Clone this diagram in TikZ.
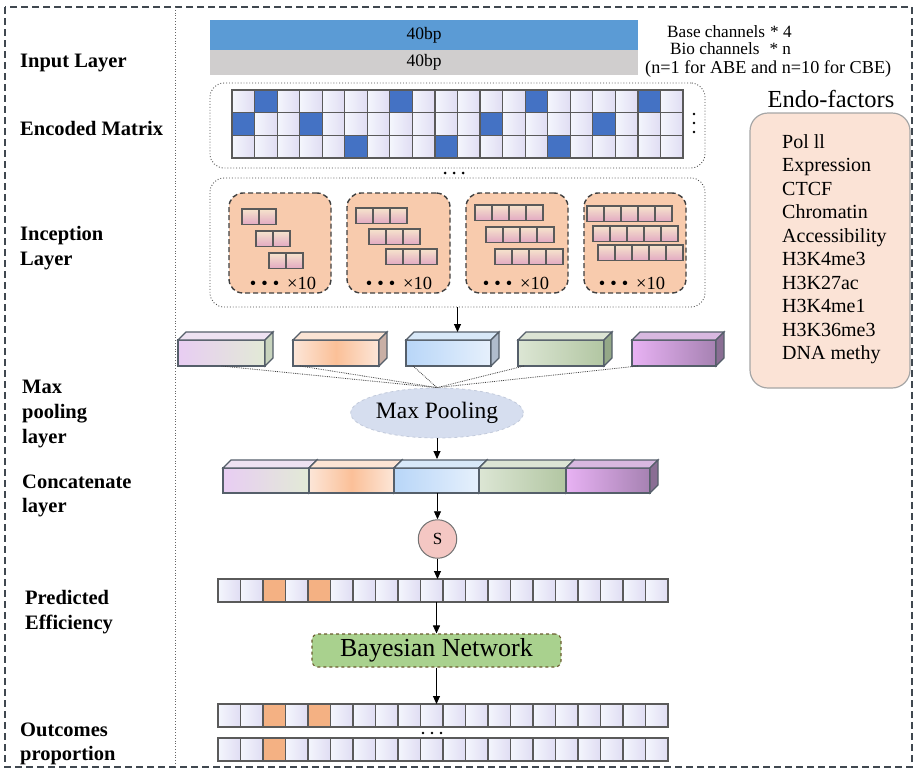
\documentclass[tikz,border=0pt]{standalone}
\usepackage{fontspec}
\setmainfont{Liberation Serif}
\usetikzlibrary{shapes.geometric,arrows.meta,calc}
\definecolor{edgeC}{HTML}{555F6A}
\definecolor{cellEdge}{HTML}{5A5A5A}
\definecolor{cellA}{HTML}{F4F6FD}
\definecolor{cellB}{HTML}{E0DDF3}
\definecolor{blueC}{HTML}{4472C4}
\definecolor{orangeC}{HTML}{F4B183}
\definecolor{barblue}{HTML}{5B9BD5}
\definecolor{bargray}{HTML}{D0CECE}
\definecolor{incfill}{HTML}{F8CBAD}
\definecolor{filtTop}{HTML}{F6E4CC}
\definecolor{filtBot}{HTML}{E2A9C2}
\definecolor{endofill}{HTML}{FBE3D6}
\definecolor{endoedge}{HTML}{A6A6A6}
\definecolor{poolfill}{HTML}{D6DEEF}
\definecolor{pooledge}{HTML}{C2CADB}
\definecolor{bayesfill}{HTML}{A9D18E}
\definecolor{bayesedge}{HTML}{6B5B2E}
\definecolor{sfill}{HTML}{F4C7C3}
\definecolor{framegray}{HTML}{404850}
% cube colours
\definecolor{aL}{HTML}{E8CDF3}\definecolor{aR}{HTML}{E2EAD6}\definecolor{aT}{HTML}{EEE2F2}\definecolor{aS}{HTML}{C8D4BE}
\definecolor{bE}{HTML}{FCE6D8}\definecolor{bM}{HTML}{FBC098}\definecolor{bT}{HTML}{FCE4D4}\definecolor{bS}{HTML}{C9AFA5}
\definecolor{cL}{HTML}{B8D6F8}\definecolor{cR}{HTML}{E6F0FC}\definecolor{cT}{HTML}{D8E8F8}\definecolor{cS}{HTML}{B0BCCC}
\definecolor{dL}{HTML}{DCE6D4}\definecolor{dR}{HTML}{B2C6A2}\definecolor{dT}{HTML}{DCE4D4}\definecolor{dS}{HTML}{94A888}
\definecolor{eL}{HTML}{E8B2F4}\definecolor{eR}{HTML}{A682B2}\definecolor{eT}{HTML}{D8B8E0}\definecolor{eS}{HTML}{8A6E94}
% #1 name, #2 x0, #3 x1, #4 y0, #5 y1, #6 front shading, #7 top colour, #8 side colour, #9 depth
\newcommand\drawcube[9]{%
  \node[cubeedge, #6, minimum width={#3-#2}, minimum height={#5-#4}, inner sep=0, outer sep=0]
     (#1) at ({(#2+#3)/2},{(#4+#5)/2}) {};
  \draw[cubeedge, fill=#7] (#1.north west) -- ++(#9,-#9) -- ++({#3-#2},0) -- (#1.north east) -- cycle;
  \draw[cubeedge, fill=#8] (#1.north east) -- ++(#9,-#9) -- ++(0,{#5-#4}) -- (#1.south east) -- cycle;
}
\begin{document}
\begin{tikzpicture}[x=1pt,y=-1pt,
  cubeedge/.style={draw=edgeC, line width=1.1pt},
  cellbox/.style={draw=cellEdge, line width=1.2pt},
  filtcell/.style={draw=cellEdge, line width=1.1pt, top color=filtTop, bottom color=filtBot},
  incbox/.style={draw=black!75, line width=1.4pt, dash pattern=on 5pt off 3pt, rounded corners=14pt,
                 fill=incfill, inner sep=0, outer sep=0},
  dotbox/.style={draw=black!70, line width=0.9pt, dotted, rounded corners=14pt, inner sep=0, outer sep=0},
  arr/.style={-{Triangle[length=8pt,width=7pt]}, line width=0.9pt, black},
  poolline/.style={draw=black!75, line width=0.8pt, densely dotted},
  lbl/.style={font=\fontsize{20.5}{24}\selectfont\bfseries, anchor=base west, inner sep=0},
  txt/.style={font=\fontsize{17.2}{19}\selectfont, anchor=base west, inner sep=0},
  rowbox/.style={minimum width=450pt, minimum height=23pt, inner sep=0, outer sep=0}
]
\useasboundingbox (0,0) rectangle (915,774);
\fill[white] (0,0) rectangle (915,774);

% frame and separator
\draw[framegray, line width=1.1pt, dash pattern=on 7pt off 4pt] (5,7) rectangle (912,767);
\draw[black!60, line width=0.8pt, dotted] (175,7) -- (175,767);

% left labels
\node[lbl] (lInput) at (20,67) {Input Layer};
\node[lbl] (lEnc) at (20,135) {Encoded Matrix};
\node[lbl] (lInc1) at (20,240) {Inception};
\node[lbl] (lInc2) at (20,265) {Layer};
\node[lbl] (lMax1) at (22,393) {Max};
\node[lbl] (lMax2) at (22,418) {pooling};
\node[lbl] (lMax3) at (22,443) {layer};
\node[lbl] (lCat1) at (22,488) {Concatenate};
\node[lbl] (lCat2) at (22,512) {layer};
\node[lbl] (lPre1) at (25,604) {Predicted};
\node[lbl] (lPre2) at (25,629) {Efficiency};
\node[lbl] (lOut1) at (20,736) {Outcomes};
\node[lbl] (lOut2) at (20,760) {proportion};

% input layer
\node[fill=barblue, minimum width=428pt, minimum height=30pt, inner sep=0, outer sep=0,
      font=\fontsize{17.5}{20}\selectfont] (inBlue) at (424,35) {40bp};
\node[fill=bargray, minimum width=428pt, minimum height=25pt, inner sep=0, outer sep=0,
      font=\fontsize{17.5}{20}\selectfont] (inGray) at (424,62.5) {40bp};
\node[txt] (baseCh) at (667,37) {Base channels\hspace{5pt}* 4};
\node[txt] (bioCh) at (670,54) {Bio channels\hspace{10pt}* n};
\node[txt, font=\fontsize{18.2}{20}\selectfont] (nNote) at (645,73) {(n=1 for ABE and n=10 for CBE)};

% encoded matrix
\node[dotbox, minimum width=495pt, minimum height=85pt] (encBox) at (457.5,125.5) {};
\foreach \r in {0,1,2}{\foreach \c in {0,...,19}{
  \draw[cellbox, left color=cellA, right color=cellB] ({232+\c*22.55},{90+\r*22.67}) rectangle ++(22.55,22.67);
}}
\foreach \r/\c in {0/1,0/7,0/13,0/18,1/0,1/3,1/11,1/16,2/5,2/9,2/14}{
  \draw[cellbox, fill=blueC] ({232+\c*22.55},{90+\r*22.67}) rectangle ++(22.55,22.67);
}
\foreach \yy in {114,123,132}{\fill[black] (694,\yy) circle (1.4pt);}
\foreach \xx in {445,454,463}{\fill[black] (\xx,173) circle (1.5pt);}

% inception layer
\node[dotbox, minimum width=495pt, minimum height=129pt] (incBox) at (457.5,242.5) {};
\node[incbox, minimum width=102pt, minimum height=100pt] (inc1) at (280,243) {};
\node[incbox, minimum width=103pt, minimum height=100pt] (inc2) at (398.5,243) {};
\node[incbox, minimum width=102pt, minimum height=100pt] (inc3) at (517,243) {};
\node[incbox, minimum width=102pt, minimum height=100pt] (inc4) at (635,243) {};
\foreach \x/\y/\n in {242/209/2,256/231/2,269/253/2,
                      356/208/3,369/229/3,386/249/3,
                      475/205/4,486/227/4,495/249/4,
                      587/206/5,593/226/5,598/245/5}{
  \foreach \k in {1,...,\n}{\draw[filtcell] ({\x+(\k-1)*17},\y) rectangle ++(17,15.5);}
}
\foreach \cx/\nm in {283/t1,399/t2,516/t3,632/t4}{
  \node[font=\fontsize{18.5}{20}\selectfont, inner sep=0] (\nm) at (\cx,283)
    {\textbullet\hspace{5pt}\textbullet\hspace{5pt}\textbullet\hspace{8pt}×10};
}

% max pooling blocks
\drawcube{blk1}{178}{265}{340}{366}{left color=aL, right color=aR}{aT}{aS}{8}
\drawcube{blk2}{293}{379}{340}{366}{left color=bE, right color=bE, middle color=bM}{bT}{bS}{8}
\drawcube{blk3}{406}{491}{340}{366}{left color=cL, right color=cR}{cT}{cS}{8}
\drawcube{blk4}{518}{604}{340}{366}{left color=dL, right color=dR}{dT}{dS}{8}
\drawcube{blk5}{632}{716}{340}{366}{left color=eL, right color=eR}{eT}{eS}{8}
\coordinate (b3top) at (457.5,332);
\draw[arr] (incBox.south) -- (b3top);

\node[ellipse, fill=poolfill, draw=pooledge, dashed, line width=0.8pt, minimum width=166pt, minimum height=50pt,
      inner sep=0, font=\fontsize{23.5}{26}\selectfont] (mp) at (437,413) {Max Pooling};
\draw[poolline] (blk1.south) -- (mp.north);
\draw[poolline] ($(blk2.south west)+(7,0)$) -- (mp.north);
\draw[poolline] ($(blk3.south west)+(7,0)$) -- (mp.north);
\draw[poolline] ($(blk4.south west)+(6,0)$) -- (mp.north);
\draw[poolline] ($(blk5.south west)+(6,0)$) -- (mp.north);

% concatenate layer
\drawcube{cat1}{223}{309}{468}{493}{left color=aL, right color=aR}{aT}{aS}{8}
\drawcube{cat2}{309}{394}{468}{493}{left color=bE, right color=bE, middle color=bM}{bT}{bS}{8}
\drawcube{cat3}{394}{479}{468}{493}{left color=cL, right color=cR}{cT}{cS}{8}
\drawcube{cat4}{479}{566}{468}{493}{left color=dL, right color=dR}{dT}{dS}{8}
\drawcube{cat5}{566}{650}{468}{493}{left color=eL, right color=eR}{eT}{eS}{8}
\coordinate (catTop) at (437,459);
\draw[arr] (mp.south) -- (catTop);

% sigmoid
\node[circle, fill=sfill, draw=black!55, line width=1pt, minimum size=38.5pt, inner sep=0,
      font=\fontsize{17}{18}\selectfont] (sig) at (437.5,539) {S};
\draw[arr] (sig.north |- cat3.south) -- (sig.north);

% predicted efficiency row
\node[rowbox] (predRow) at (443,590.5) {};
\foreach \c in {0,...,19}{
  \draw[cellbox, left color=cellA, right color=cellB] ({218+\c*22.5},579) rectangle ++(22.5,23);
}
\foreach \c in {2,4}{\draw[cellbox, fill=orangeC] ({218+\c*22.5},579) rectangle ++(22.5,23);}
\draw[arr] (sig.south) -- (sig.south |- predRow.north);

% bayesian network
\node[fill=bayesfill, draw=bayesedge, dashed, line width=1.1pt, rounded corners=6pt,
      minimum width=249pt, minimum height=33pt, inner sep=0, font=\fontsize{26}{30}\selectfont]
      (bayes) at (436.5,650.5) {Bayesian Network};
\draw[arr] (bayes.north |- predRow.south) -- (bayes.north);

% outcomes
\node[rowbox] (outRow1) at (443,715.5) {};
\node[rowbox] (outRow2) at (443,749.5) {};
\foreach \c in {0,...,19}{
  \draw[cellbox, left color=cellA, right color=cellB] ({218+\c*22.5},704) rectangle ++(22.5,23);
  \draw[cellbox, left color=cellA, right color=cellB] ({218+\c*22.5},738) rectangle ++(22.5,23);
}
\foreach \c in {2,4}{\draw[cellbox, fill=orangeC] ({218+\c*22.5},704) rectangle ++(22.5,23);}
\draw[cellbox, fill=orangeC] ({218+2*22.5},738) rectangle ++(22.5,23);
\foreach \xx in {423,432,441}{\fill[black] (\xx,733) circle (1.4pt);}
\draw[arr] (bayes.south) -- (bayes.south |- outRow1.north);

% endo-factors
\node[font=\fontsize{24.5}{27}\selectfont, anchor=base, inner sep=0] (endoT) at (831,107) {Endo-factors};
\node[fill=endofill, draw=endoedge, line width=1.2pt, rounded corners=18pt,
      minimum width=160pt, minimum height=275pt, inner sep=0] (endoBox) at (830,250.5) {};
\node[anchor=north west, align=left, inner sep=0, font=\fontsize{20}{23.5}\selectfont] (endoList) at (782,134)
  {Pol ll\\Expression\\CTCF\\Chromatin\\Accessibility\\H3K4me3\\H3K27ac\\H3K4me1\\H3K36me3\\DNA methy};
\end{tikzpicture}
\end{document}
